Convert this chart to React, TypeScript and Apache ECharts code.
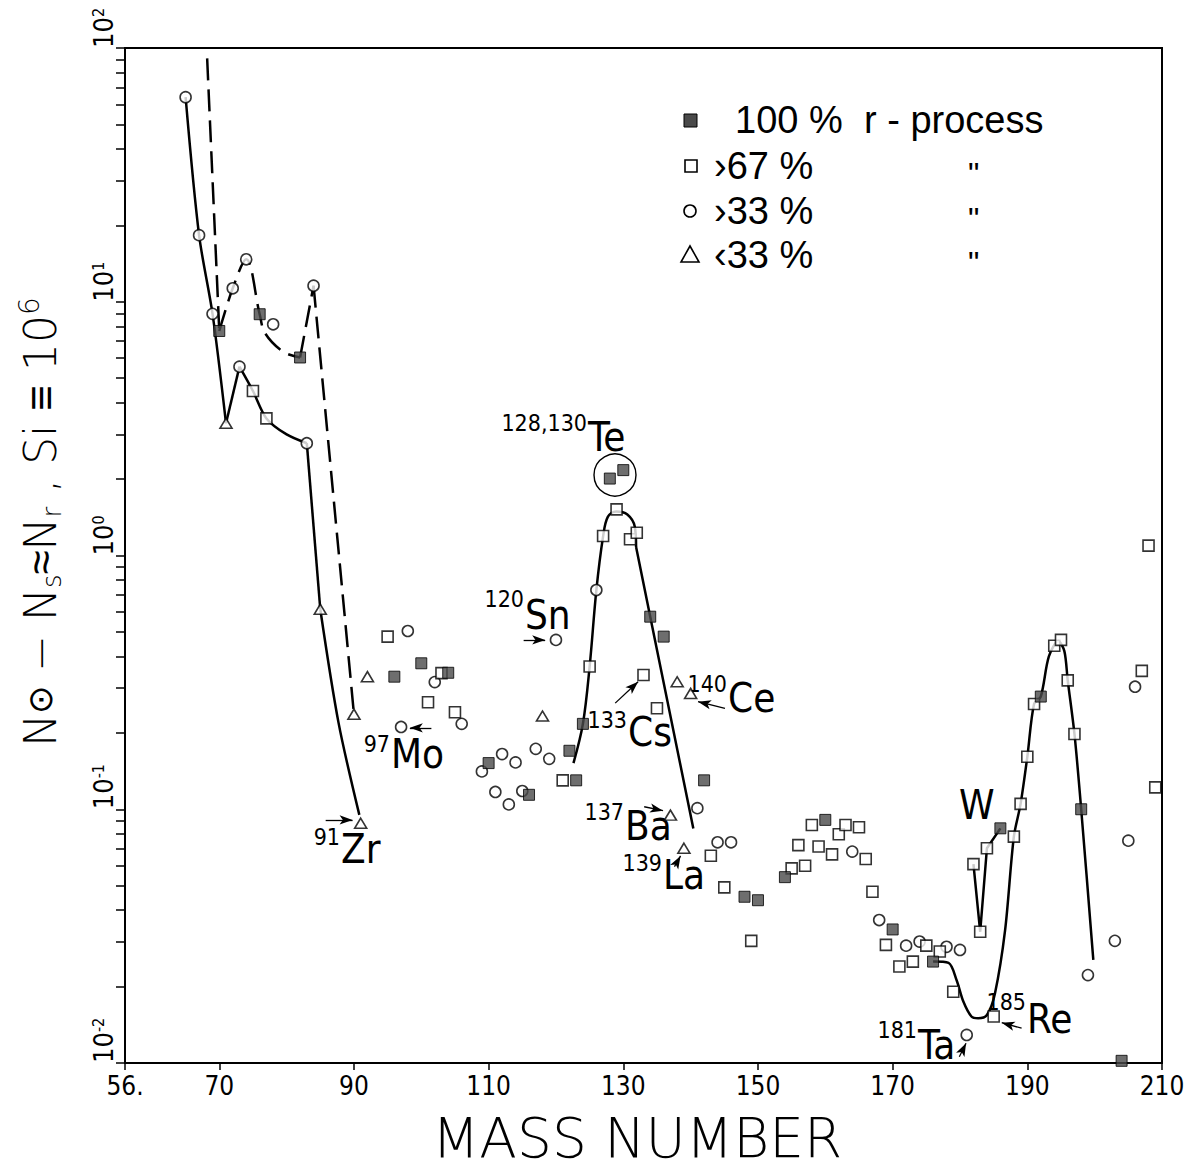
import React, { useEffect, useRef } from "react";
import * as echarts from "echarts";

const W = 1186;
const H = 1169;

// ---------- data (mass number, N_r residual abundance) ----------
const pct100: [number, number][] = [
  [70, 7.67], [76, 8.93], [82, 6.03], [96, 0.333], [100, 0.376], [104, 0.345],
  [110, 0.152], [116, 0.114], [122, 0.17], [123, 0.13], [124, 0.217],
  [128, 2.01], [130, 2.17], [134, 0.574], [136, 0.479], [142, 0.13],
  [148, 0.0452], [150, 0.0438], [154, 0.054], [160, 0.0908], [170, 0.0336],
  [176, 0.0251], [186, 0.0841], [192, 0.278], [198, 0.1], [204, 0.0102],
];
const pct67: [number, number][] = [
  [75, 4.45], [77, 3.47], [95, 0.479], [101, 0.264], [103, 0.344], [105, 0.241],
  [121, 0.13], [125, 0.365], [127, 1.194], [129, 1.52], [131, 1.159], [132, 1.23],
  [133, 0.338], [135, 0.25], [143, 0.0656], [145, 0.0492], [149, 0.0303],
  [155, 0.0585], [156, 0.0722], [157, 0.0599], [158, 0.0867], [159, 0.0713],
  [161, 0.0664], [162, 0.0797], [163, 0.0867], [165, 0.0849], [166, 0.0637],
  [167, 0.0473], [169, 0.0292], [171, 0.024], [173, 0.0251], [175, 0.029],
  [177, 0.0275], [179, 0.0191], [182, 0.0608], [183, 0.0329], [184, 0.0702],
  [185, 0.01525], [188, 0.078], [189, 0.105], [190, 0.161], [191, 0.26],
  [194, 0.441], [195, 0.465], [196, 0.322], [197, 0.198], [207, 0.351],
  [208, 1.094], [209, 0.122],
];
const pct33: [number, number][] = [
  [65, 64], [67, 18.3], [69, 8.96], [72, 11.3], [73, 5.55], [74, 14.7], [78, 8.15],
  [83, 2.77], [84, 11.57], [97, 0.211], [98, 0.504], [102, 0.317], [106, 0.217],
  [109, 0.141], [111, 0.117], [112, 0.165], [113, 0.1045], [114, 0.153], [115, 0.118],
  [117, 0.173], [119, 0.158], [120, 0.465], [126, 0.731], [141, 0.101], [144, 0.0741],
  [146, 0.0741], [164, 0.0681], [168, 0.0366], [172, 0.029], [174, 0.0301],
  [178, 0.0287], [180, 0.0279], [181, 0.0129], [199, 0.0222], [203, 0.0303],
  [205, 0.0752], [206, 0.304],
];
const pctBelow33: [number, number][] = [
  [71, 3.32], [85, 0.614], [90, 0.237], [91, 0.0881], [92, 0.333], [118, 0.233],
  [137, 0.0948], [138, 0.318], [139, 0.0702], [140, 0.286],
];

// hand-drawn guide curves
const oddCurveA: [number, number][] = [[65, 64], [67, 18.3], [69, 8.96], [71, 3.32]];
const oddCurveB: [number, number][] = [[71, 3.32], [73, 5.55]];
const oddCurveC: [number, number][] = [[73, 5.55], [75, 4.45], [77, 3.47], [80, 3.0], [83, 2.77]];
const oddCurveD: [number, number][] = [[83, 2.77], [85, 0.614]];
const oddCurveE: [number, number][] = [[85, 0.614], [87.7, 0.22], [90.8, 0.095]];
const evenCurveA: [number, number][] = [[68.2, 91], [70, 7.67]];
const evenCurveB: [number, number][] = [[70, 7.67], [72, 11.3], [74, 14.7], [76, 8.93], [76.8, 7.52], [79.5, 6.35], [82, 6.03]];
const evenCurveC: [number, number][] = [[82, 6.03], [84, 11.57]];
const evenCurveD: [number, number][] = [[84, 11.57], [90, 0.237]];
const tePeakCurve: [number, number][] = [
  [122.6, 0.152], [124, 0.217], [125, 0.365], [126, 0.731], [127, 1.19], [127.7, 1.42],
  [128.95, 1.49], [130.6, 1.45], [131.7, 1.3], [131.9, 1.08],
];
const teFallCurve: [number, number][] = [[131.9, 1.08], [134, 0.574], [140.4, 0.084]];
const ptPeakCurve: [number, number][] = [
  [176, 0.0251], [178.3, 0.0248], [179.5, 0.0212], [180.5, 0.01746], [181.7, 0.01525],
  [182.7, 0.015], [184, 0.01545], [185.2, 0.01884], [186.7, 0.0334], [188, 0.078],
  [189, 0.105], [190, 0.161], [191, 0.26], [192, 0.278], [193.2, 0.4], [194.6, 0.46],
  [195.5, 0.42], [196, 0.322], [197, 0.198], [198, 0.1], [199.8, 0.0255],
];
const tungstenCurve: [number, number][] = [[182, 0.0608], [183, 0.0329], [184, 0.0702], [186, 0.0841]];

// annotation arrows: [fromA, fromN, toA, toN]
const arrows: [number, number, number, number][] = [
  [85.8, 0.0908, 89.8, 0.0908],
  [101.5, 0.2094, 98.3, 0.2094],
  [115.2, 0.465, 118.4, 0.465],
  [128.8, 0.262, 132.2, 0.318],
  [145.1, 0.25, 141.1, 0.2655],
  [133.1, 0.1023, 135.9, 0.0987],
  [137.6, 0.0594, 138.5, 0.0655],
  [179.9, 0.01059, 180.9, 0.01197],
  [189.15, 0.01371, 186.2, 0.01442],
];

const xTickValues = [56, 70, 90, 110, 130, 150, 170, 190, 210];
const yDecades = [-2, -1, 0, 1, 2];
const yMinorMultipliers = [1, 2, 3, 4, 5, 6, 7, 8, 9];

const legendLabels = ["100 %", "›67 %", "›33 %", "‹33 %"];
const legendTail = ["r - process", '"', '"', '"'];

// annotation layout (pixels): superscript ends at mx, main text starts at mx
const annotations = [
  { sup: "128,130", main: "Te", sy: 423, mx: 588, my: 437 },
  { sup: "120", main: "Sn", sy: 599, mx: 525, my: 615 },
  { sup: "97", main: "Mo", sy: 744, mx: 391, my: 754 },
  { sup: "91", main: "Zr", sy: 837, mx: 341, my: 849 },
  { sup: "133", main: "Cs", sy: 720, mx: 628, my: 732 },
  { sup: "140", main: "Ce", sy: 684, mx: 728, my: 698 },
  { sup: "137", main: "Ba", sy: 812, mx: 625, my: 826 },
  { sup: "139", main: "La", sy: 863, mx: 663, my: 875 },
  { sup: "", main: "W", sy: 0, mx: 959, my: 805 },
  { sup: "181", main: "Ta", sy: 1030, mx: 918, my: 1045 },
  { sup: "185", main: "Re", sy: 1002, mx: 1027, my: 1019 },
];

const NARROW = "'Liberation Sans Narrow', 'DejaVu Sans Condensed', sans-serif";
const SANS = "'Liberation Sans', 'DejaVu Sans', sans-serif";
const DEJAVU = "'DejaVu Sans', sans-serif";

function curve(data: [number, number][], smooth: number | boolean, dashed = false) {
  return {
    type: "line",
    data,
    yAxisIndex: 0,
    symbol: "none",
    showSymbol: false,
    smooth,
    silent: true,
    z: 2,
    lineStyle: { color: "#000", width: 2.5, type: dashed ? [22, 9] : "solid" },
  };
}

function buildOption() {
  const minorTicks: number[] = [];
  yDecades.forEach((e) => {
    if (e === 2) {
      minorTicks.push(2);
      return;
    }
    yMinorMultipliers.forEach((k) => minorTicks.push(e + Math.log10(k)));
  });

  const markerBase = { color: "#fff", borderColor: "#000", borderWidth: 1.6 };

  const graphics: any[] = [];
  const legendY = [120, 166, 211, 255];
  // legend markers
  graphics.push(
    { type: "rect", shape: { x: 684, y: legendY[0] - 6, width: 13, height: 13 }, style: { fill: "#4a4a4a", stroke: "#000", lineWidth: 1 } },
    { type: "rect", shape: { x: 685, y: legendY[1] - 6, width: 12, height: 12 }, style: { fill: "#fff", stroke: "#000", lineWidth: 1.6 } },
    { type: "circle", shape: { cx: 690, cy: legendY[2], r: 6 }, style: { fill: "#fff", stroke: "#000", lineWidth: 1.6 } },
    {
      type: "polygon",
      shape: { points: [[690, legendY[3] - 9], [681, legendY[3] + 7], [699, legendY[3] + 7]] },
      style: { fill: "#fff", stroke: "#000", lineWidth: 1.6 },
    }
  );
  legendLabels.forEach((t, i) => {
    graphics.push({
      type: "text",
      x: i === 0 ? 735 : 714,
      y: legendY[i],
      style: { text: t, fontFamily: SANS, fontSize: 38, lineHeight: 38, fill: "#000", align: "left", verticalAlign: "middle" },
    });
    graphics.push({
      type: "text",
      x: i === 0 ? 864 : 968,
      y: i === 0 ? legendY[i] : legendY[i] + 8,
      style: {
        text: legendTail[i],
        fontFamily: SANS,
        fontSize: i === 0 ? 38 : 32,
        lineHeight: i === 0 ? 38 : 20,
        fill: "#000",
        align: "left",
        verticalAlign: "middle",
      },
    });
  });
  // annotations
  annotations.forEach((a) => {
    if (a.sup) {
      graphics.push({
        type: "text",
        x: a.mx - 1,
        y: a.sy,
        style: { text: a.sup, fontFamily: NARROW, fontSize: 23, fill: "#000", align: "right", verticalAlign: "middle" },
      });
    }
    graphics.push({
      type: "text",
      x: a.mx,
      y: a.my,
      style: { text: a.main, fontFamily: NARROW, fontSize: 40, fill: "#000", align: "left", verticalAlign: "middle" },
    });
  });
  // circle around Te
  graphics.push({ type: "circle", shape: { cx: 615, cy: 475, r: 21 }, style: { fill: "none", stroke: "#000", lineWidth: 1.4 } });
  // axis titles
  graphics.push({
    type: "text",
    x: 637,
    y: 1138,
    style: {
      text: "MASS NUMBER",
      fontFamily: DEJAVU,
      fontSize: 55,
      fontWeight: 200,
      lineHeight: 42,
      fill: "#000",
      align: "center",
      verticalAlign: "middle",
    },
  });
  graphics.push({
    type: "text",
    x: 40,
    y: 522,
    rotation: Math.PI / 2,
    style: {
      text: "{n|N}{o|⊙}{n| − N}{sb|s}{n|≈N}{sb|r}{n| , Si ≡ 10}{sp|6}",
      align: "center",
      verticalAlign: "middle",
      fill: "#000",
      rich: {
        n: { fontFamily: DEJAVU, fontSize: 44, fontWeight: 200, lineHeight: 50, verticalAlign: "middle", fill: "#000" },
        o: { fontFamily: DEJAVU, fontSize: 34, fontWeight: 200, lineHeight: 50, verticalAlign: "middle", fill: "#000" },
        sb: { fontFamily: DEJAVU, fontSize: 26, fontWeight: 200, lineHeight: 26, verticalAlign: "bottom", fill: "#000" },
        sp: { fontFamily: DEJAVU, fontSize: 28, fontWeight: 200, lineHeight: 28, verticalAlign: "top", fill: "#000" },
      },
    },
  });

  return {
    animation: false,
    backgroundColor: "#fff",
    grid: {
      left: 125,
      right: W - 1162,
      top: 48,
      bottom: H - 1063,
      show: true,
      borderColor: "#000",
      borderWidth: 2,
      backgroundColor: "transparent",
      containLabel: false,
      outerBoundsMode: "none",
    },
    xAxis: {
      type: "value",
      min: 56,
      max: 210,
      position: "bottom",
      splitLine: { show: false },
      axisLine: { show: true, onZero: false, lineStyle: { color: "#000", width: 2 } },
      axisTick: { show: true, customValues: xTickValues, length: 7, inside: false, lineStyle: { color: "#000", width: 1.5 } },
      axisLabel: {
        show: true,
        customValues: xTickValues,
        formatter: (v: number) => (v === 56 ? "56." : String(v)),
        fontFamily: NARROW,
        fontSize: 26,
        color: "#000",
        margin: 10,
      },
    },
    yAxis: [
      {
        type: "log",
        logBase: 10,
        min: 0.01,
        max: 100,
        position: "left",
        axisLine: { show: false },
        axisTick: { show: false },
        axisLabel: { show: false },
        splitLine: { show: false },
      },
      {
        type: "value",
        min: -2,
        max: 2,
        position: "left",
        splitLine: { show: false },
        axisLine: { show: true, onZero: false, lineStyle: { color: "#000", width: 2 } },
        axisTick: { show: true, customValues: minorTicks, length: 9, inside: false, lineStyle: { color: "#000", width: 1.5 } },
        axisLabel: {
          show: true,
          customValues: yDecades,
          rotate: 90,
          align: "left",
          verticalAlign: "bottom",
          margin: 8,
          formatter: (v: number) => `{b|10}{s|${Math.round(v)}}`,
          rich: {
            b: { fontFamily: NARROW, fontSize: 27, lineHeight: 27, verticalAlign: "bottom", color: "#000" },
            s: { fontFamily: NARROW, fontSize: 16, lineHeight: 16, verticalAlign: "top", color: "#000" },
          },
        },
      },
    ],
    series: [
      curve(oddCurveA, 0.3),
      curve(oddCurveB, false),
      curve(oddCurveC, 0.3),
      curve(oddCurveD, false),
      curve(oddCurveE, 0.3),
      curve(evenCurveA, false, true),
      curve(evenCurveB, 0.35, true),
      curve(evenCurveC, false, true),
      curve(evenCurveD, false, true),
      curve(tePeakCurve, 0.35),
      curve(teFallCurve, false),
      curve(ptPeakCurve, 0.3),
      curve(tungstenCurve, false),
      {
        type: "scatter",
        name: "> 33 %",
        data: pct33,
        yAxisIndex: 0,
        symbol: "circle",
        symbolSize: 11,
        itemStyle: markerBase,
        z: 5,
        silent: true,
      },
      {
        type: "scatter",
        name: "< 33 %",
        data: pctBelow33,
        yAxisIndex: 0,
        symbol: "triangle",
        symbolSize: [12, 10],
        itemStyle: markerBase,
        z: 5,
        silent: true,
      },
      {
        type: "scatter",
        name: "> 67 %",
        data: pct67,
        yAxisIndex: 0,
        symbol: "rect",
        symbolSize: 11,
        itemStyle: markerBase,
        z: 6,
        silent: true,
        markLine: {
          silent: true,
          animation: false,
          symbol: ["none", "arrow"],
          symbolSize: [7, 13],
          label: { show: false },
          lineStyle: { color: "#000", width: 1.3, type: "solid" },
          emphasis: { disabled: true },
          data: arrows.map((a) => [{ coord: [a[0], a[1]] }, { coord: [a[2], a[3]] }]),
        },
      },
      {
        type: "scatter",
        name: "100 %",
        data: pct100,
        yAxisIndex: 0,
        symbol: "rect",
        symbolSize: 11,
        itemStyle: { color: "#4a4a4a", borderColor: "#000", borderWidth: 1 },
        z: 7,
        silent: true,
      },
    ],
    graphic: graphics,
  };
}

export default function App() {
  const ref = useRef<HTMLDivElement>(null);
  useEffect(() => {
    if (!ref.current) return;
    const chart = echarts.init(ref.current, null, { renderer: "svg" });
    chart.setOption(buildOption() as any);
    return () => chart.dispose();
  }, []);
  return (
    <div
      ref={ref}
      style={{ position: "absolute", left: 0, top: 0, width: W, height: H, background: "#fff" }}
    />
  );
}
